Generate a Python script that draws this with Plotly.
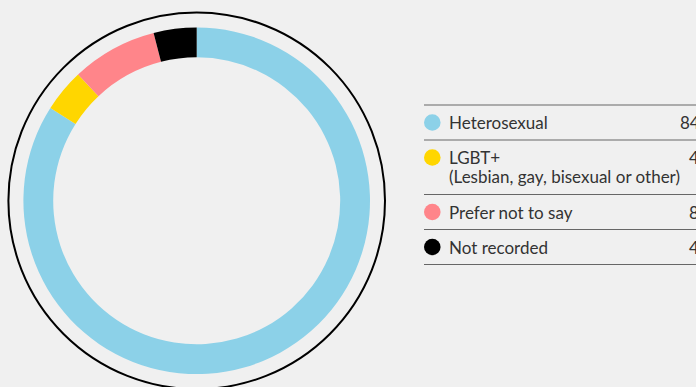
import plotly.graph_objects as go

# Sexual orientation breakdown (percent)
categories = ["Heterosexual", "LGBT+", "Prefer not to say", "Not recorded"]
row_labels = [["Heterosexual"],
              ["LGBT+", "(Lesbian, gay, bisexual or other)"],
              ["Prefer not to say"],
              ["Not recorded"]]
values = [84, 4, 8, 4]
colors = ["#8cd1e8", "#ffd600", "#ff858a", "#000000"]

W, H = 696, 387
BG = "#f0f0f0"
TEXT = "#333333"
RULE = "#666666"
FONT = "Lato"
FSIZE = 17


def px(x):
    return x / W


def py(y):
    return 1 - y / H


# Donut geometry (pixels)
cx, cy, r_out = 196.7, 200.8, 173.3

fig = go.Figure()
fig.add_trace(go.Pie(
    labels=categories,
    values=values,
    marker=dict(colors=colors, line=dict(width=0)),
    hole=0.828,
    sort=False,
    direction="clockwise",
    rotation=0,
    textinfo="none",
    hoverinfo="label+percent",
    showlegend=False,
    domain=dict(x=[px(cx - r_out), px(cx + r_out)],
                y=[py(cy + r_out), py(cy - r_out)]),
))

shapes = []
annotations = []

# Outer thin ring around the donut
r_ring = 188.3
shapes.append(dict(type="circle", xref="paper", yref="paper",
                   x0=px(cx - r_ring), x1=px(cx + r_ring),
                   y0=py(cy + r_ring), y1=py(cy - r_ring),
                   line=dict(color="#000000", width=2), fillcolor="rgba(0,0,0,0)"))

# Key table on the right
x_rule0 = 424
x_dot = 432.3
r_dot = 8.3
x_text = 447
x_val = 715
line_h = 19.5
top = 105
shapes.append(dict(type="line", xref="paper", yref="paper",
                   x0=px(x_rule0), x1=1.0, y0=py(top), y1=py(top),
                   line=dict(color=RULE, width=1.2)))
for lines, val, col in zip(row_labels, values, colors):
    row_h = 35 + line_h * (len(lines) - 1)
    yc = top + 17.5
    shapes.append(dict(type="circle", xref="paper", yref="paper",
                       x0=px(x_dot - r_dot), x1=px(x_dot + r_dot),
                       y0=py(yc + r_dot), y1=py(yc - r_dot),
                       line=dict(width=0), fillcolor=col))
    for i, line in enumerate(lines):
        annotations.append(dict(text=line, xref="paper", yref="paper",
                                x=px(x_text), y=py(yc + i * line_h),
                                xanchor="left", yanchor="middle", align="left",
                                showarrow=False,
                                font=dict(family=FONT, size=FSIZE, color=TEXT)))
    annotations.append(dict(text=f"{val}%", xref="paper", yref="paper",
                            x=px(x_val), y=py(yc),
                            xanchor="right", yanchor="middle",
                            showarrow=False,
                            font=dict(family=FONT, size=FSIZE, color=TEXT)))
    top += row_h
    shapes.append(dict(type="line", xref="paper", yref="paper",
                       x0=px(x_rule0), x1=1.0, y0=py(top), y1=py(top),
                       line=dict(color=RULE, width=1.2)))

fig.update_layout(
    width=W, height=H,
    margin=dict(l=0, r=0, t=0, b=0),
    paper_bgcolor=BG, plot_bgcolor=BG,
    shapes=shapes, annotations=annotations,
    showlegend=False,
)

fig.write_html("out.html")
